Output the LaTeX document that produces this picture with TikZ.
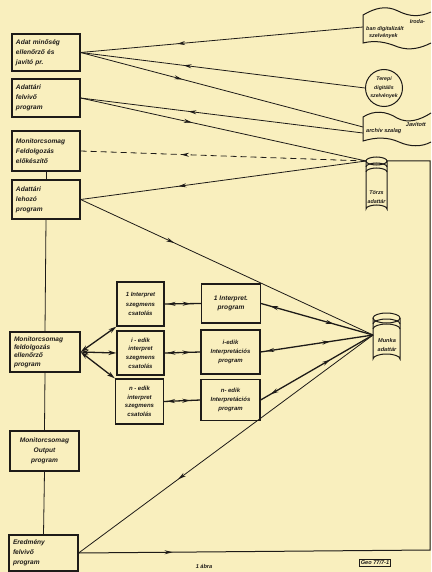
\documentclass[tikz,border=0pt]{standalone}
\usepackage{fontspec}
\newfontfamily\lett{Liberation Sans}
\usetikzlibrary{arrows.meta,decorations.markings}
\definecolor{paper}{RGB}{249,239,190}
\definecolor{ink}{RGB}{30,27,24}
\tikzset{
  box/.style={draw=ink, line width=1.2pt, rectangle, inner sep=2pt, align=left,
    font=\lett\bfseries\itshape\fontsize{6.6}{9.8}\selectfont, text=ink},
  lbl/.style={font=\lett\bfseries\itshape\fontsize{6}{9}\selectfont, text=ink, inner sep=0pt},
  conn/.style={draw=ink, line width=0.8pt},
  bold/.style={draw=ink, line width=1.3pt},
  fwd/.style={postaction={decorate,decoration={markings,mark=at position #1 with {\arrow{Stealth[length=8pt,width=4pt]}}}}},
  fwd/.default=0.5,
  bwd/.style={postaction={decorate,decoration={markings,mark=at position #1 with {\arrow{Stealth[length=8pt,width=4pt,reversed]}}}}},
  bwd/.default=0.5
}
\begin{document}
\begin{tikzpicture}[x=1pt,y=-1pt]
\fill[paper] (0,0) rectangle (431,572);
\useasboundingbox (0,0) rectangle (431,572);

% left column
\node[box, minimum width=68pt, minimum height=37pt, text width=60pt] (b1) at (46,52.5) {Adat minőség\\ellenőrző és\\javító pr.};
\node[box, minimum width=68pt, minimum height=38pt, text width=60pt] (b2) at (46,98) {Adattári\\felvivő\\program};
\node[box, minimum width=68pt, minimum height=40pt, text width=60pt] (b3) at (46,151) {Monitorcsomag\\Feldolgozás\\előkészítő};
\node[box, minimum width=68pt, minimum height=39pt, text width=60pt] (b4) at (46,199.5) {Adattári\\lehozó\\program};
\node[box, minimum width=70pt, minimum height=40pt, text width=62pt, font=\lett\bfseries\itshape\fontsize{6.6}{8.2}\selectfont] (b5) at (45,352) {Monitorcsomag\\feldolgozás\\ellenőrző\\program};
\node[box, minimum width=69pt, minimum height=40pt, align=center] (b6) at (44.5,451) {Monitorcsomag\\Output\\program};
\node[box, minimum width=69pt, minimum height=36pt, text width=61pt] (b7) at (43.5,553) {Eredmény\\felvivő\\program};

\draw[conn] (b3.south) -- (b4.north);
\draw[conn] (b4.south) -- (b5.north);
\draw[conn] (b5.south) -- (b6.north);
\draw[conn] (b6.south) -- (b7.north);

% middle column
\node[box, minimum width=47pt, minimum height=44pt, align=center, font=\lett\bfseries\itshape\fontsize{6}{9.5}\selectfont] (m1) at (140.5,304) {1 Interpret\\szegmens\\csatolás};
\node[box, minimum width=47pt, minimum height=44pt, align=center, font=\lett\bfseries\itshape\fontsize{6}{8.6}\selectfont] (m2) at (140.5,353) {i - edik\\interpret\\szegmens\\csatolás};
\node[box, minimum width=48pt, minimum height=45pt, align=center, font=\lett\bfseries\itshape\fontsize{6}{8.6}\selectfont] (m3) at (139.5,401.5) {n - edik\\interpret\\szegmens\\csatolás};

% right column
\node[box, minimum width=59pt, minimum height=39pt, align=center] (r1) at (231,303.5) {1 Interpret.\\program};
\node[box, minimum width=59pt, minimum height=44pt, align=center, font=\lett\bfseries\itshape\fontsize{6}{9}\selectfont] (r2) at (230.5,352) {i-edik\\Interpretációs\\program};
\node[box, minimum width=59pt, minimum height=41pt, align=center, font=\lett\bfseries\itshape\fontsize{6}{9}\selectfont] (r3) at (230.5,400) {n- edik\\Interpretációs\\program};

% flag: Irodaban digitalizalt szelvenyek
\draw[ink, line width=1pt] (431,12) .. controls (420,17) and (410,17) .. (398,11)
  .. controls (386,5) and (375,8) .. (363,15) -- (363,43)
  .. controls (375,40) and (386,42) .. (398,47) .. controls (410,51) and (421,48) .. (431,43);
\node[lbl, anchor=east, font=\lett\bfseries\itshape\fontsize{5.4}{7}\selectfont] (irt1) at (425,22) {Iroda-};
\node[lbl, anchor=west, font=\lett\bfseries\itshape\fontsize{5.4}{7}\selectfont] (irt2) at (366,29) {ban digitalizált};
\node[lbl, anchor=west, font=\lett\bfseries\itshape\fontsize{5.4}{7}\selectfont] (irt3) at (369,36) {szelvények};
\coordinate (irw) at (363,27);

% circle: Terepi digitalis szelvenyek
\node[draw=ink, line width=1pt, circle, minimum size=37pt, inner sep=0pt, align=center,
  font=\lett\bfseries\itshape\fontsize{5.2}{8.5}\selectfont, text=ink] (ter) at (384,88) {Terepi\\digitális\\szelvények};

% flag: Javitott archiv szalag
\draw[ink, line width=1pt] (431,113) .. controls (420,120) and (408,124) .. (397,118)
  .. controls (386,111) and (374,110) .. (363,117) -- (363,141)
  .. controls (376,137) and (388,137) .. (399,142) .. controls (410,147) and (422,147) .. (431,142);
\node[lbl, anchor=east, font=\lett\bfseries\itshape\fontsize{5.6}{7}\selectfont] (jvt1) at (426,124) {Javított};
\node[lbl, anchor=west, font=\lett\bfseries\itshape\fontsize{5.6}{7}\selectfont] (jvt2) at (366,131) {archív szalag};
\coordinate (jv1) at (363,127);
\coordinate (jv2) at (363,133);

% cylinder: Torzs adattar
\begin{scope}[ink, line width=1pt]
\draw (366,161) -- (366,209) arc[start angle=180, end angle=360, x radius=10.5, y radius=4] -- (387,161);
\draw (376.5,161) ellipse[x radius=10.5, y radius=4];
\draw (366,167) arc[start angle=180, end angle=360, x radius=10.5, y radius=4];
\draw (366,172) arc[start angle=180, end angle=360, x radius=10.5, y radius=4];
\end{scope}
\node[lbl, align=center, font=\lett\bfseries\itshape\fontsize{5.4}{8.5}\selectfont] (tzt) at (376.5,197) {Törzs\\adattár};
\coordinate (tz) at (366,161);
\coordinate (tze) at (387,161);

% cylinder: Munka adattar
\begin{scope}[ink, line width=1pt]
\draw (373,318) -- (373,359) arc[start angle=180, end angle=360, x radius=13.5, y radius=5] -- (400,318);
\draw (386.5,318) ellipse[x radius=13.5, y radius=5];
\draw (373,324) arc[start angle=180, end angle=360, x radius=13.5, y radius=5];
\draw (373,329) arc[start angle=180, end angle=360, x radius=13.5, y radius=5];
\end{scope}
\node[lbl, align=center, font=\lett\bfseries\itshape\fontsize{5.6}{8.5}\selectfont] (mkt) at (387,345) {Munka\\adattár};
\coordinate (mk) at (373,335);

% connectors from top boxes
\draw[conn, bwd=0.37] (b1.east) -- (irw);
\draw[conn, bwd=0.39] (b1.east) -- (ter.west);
\draw[conn, fwd=0.36] (b1.east) -- (jv1);
\draw[conn, bwd=0.41] (b2.east) -- (jv2);
\draw[conn, fwd=0.39] (b2.east) -- (tz);
\draw[conn, dash pattern=on 6pt off 4pt, bwd=0.38] (b3.east) -- (tz);
\draw[conn, bwd=0.37] (b4.east) -- (tz);
\draw[conn, fwd=0.32] (b4.east) -- (mk);
\draw[conn, bwd=0.36] (b7.east) -- (mk);

% return loop
\coordinate (rb) at (430,550);
\coordinate (rt) at (430,161);
\draw[conn, line width=1pt, fwd=0.12] (b7.east) -- (rb) -- (rt) -- (tze);

% b5 to segment connectors
\draw[bold, {Stealth[length=8pt,width=4.5pt]}-{Stealth[length=8pt,width=4.5pt]}] (b5.east) -- (m1.south west);
\draw[bold, {Stealth[length=8pt,width=4.5pt]}-{Stealth[length=8pt,width=4.5pt]}] (b5.east) -- (m2.west);
\draw[bold, {Stealth[length=8pt,width=4.5pt]}-{Stealth[length=8pt,width=4.5pt]}] (b5.east) -- (m3.north west);

% segment connectors to interpretation programs
\draw[bold, bwd=0.3, fwd=0.72] (m1.east) -- (r1.west);
\draw[bold, bwd=0.3, fwd=0.72] (m2.east) -- (r2.west);
\draw[bold, bwd=0.3, fwd=0.72] (m3.east) -- (r3.west);

% interpretation programs to Munka adattar
\draw[bold, bwd=0.15, fwd=0.65] (r1.east) -- (mk);
\draw[bold, bwd=0.12, fwd=0.62] (r2.east) -- (mk);
\draw[bold, bwd=0.15, fwd=0.62] (r3.east) -- (mk);

% captions
\node[lbl, font=\lett\bfseries\itshape\fontsize{5.6}{7}\selectfont] (cap) at (204,566) {1 ábra};
\node[draw=ink, line width=0.8pt, lbl, inner sep=1.5pt, font=\lett\bfseries\itshape\fontsize{5.6}{7}\selectfont] (geo) at (375,563) {Geo 77/7-1};
\end{tikzpicture}
\end{document}
